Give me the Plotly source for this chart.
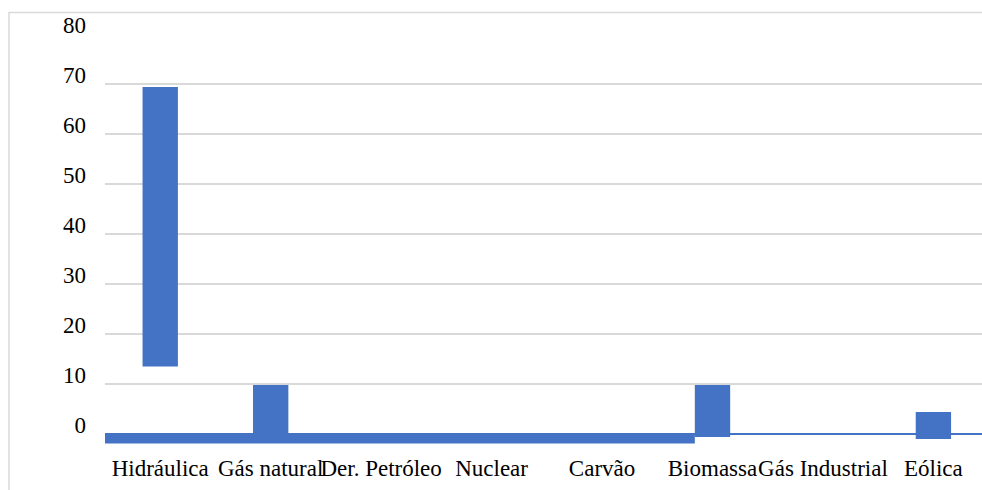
import plotly.graph_objects as go

# Electricity generation by source (%)
sources = ["Hidráulica", "Gás natural", "Der. Petróleo", "Nuclear",
           "Carvão", "Biomassa", "Gás Industrial", "Eólica"]
bar_top = [69.4, 9.8, 0, 0, 0, 9.8, 0, 4.4]
bar_base = [13.5, -0.4, 0, 0, 0, -0.6, 0, -1.0]

# Strip below the zero line, from the first source up to the Biomassa bar
strip_start = ["Hidráulica"]
strip_depth = [-1.9]

y_ticks = [0, 10, 20, 30, 40, 50, 60, 70, 80]

BLUE = "#4472C4"
GRID = "#d9d9d9"
FONT = "Times New Roman"

W, H = 982, 490
L, R, T, B = 105, 0, 34, 46
BAR_W = 0.32

fig = go.Figure()

strip_len = sources.index("Biomassa") + 0.5 - BAR_W / 2
fig.add_trace(go.Bar(
    x=strip_start, y=strip_depth,
    width=[strip_len], offset=[-0.5],
    marker=dict(color=BLUE, line=dict(width=0)),
    hoverinfo="skip", showlegend=False,
))

fig.add_trace(go.Bar(
    x=sources,
    y=[t - b for t, b in zip(bar_top, bar_base)],
    base=bar_base,
    width=BAR_W,
    marker=dict(color=BLUE, line=dict(width=0)),
    showlegend=False,
))

pw = W - L - R
ph = H - T - B
# light frame around the chart area
fig.add_shape(type="path", xref="paper", yref="paper",
              path=f"M {(9 - L) / pw} {-(H + 5 - T - ph) / ph} "
                   f"L {(9 - L) / pw} {(ph + T - 12.5) / ph} "
                   f"L {(W + 5 - L) / pw} {(ph + T - 12.5) / ph}",
              line=dict(color=GRID, width=1.5), layer="below")

fig.update_layout(
    width=W, height=H,
    margin=dict(l=L, r=R, t=T, b=B),
    paper_bgcolor="white", plot_bgcolor="white",
    barmode="overlay",
    font=dict(family=FONT, size=23, color="#000000"),
    xaxis=dict(
        type="category", categoryorder="array", categoryarray=sources,
        range=[-0.5, 7.44], tickangle=0, showgrid=False, showline=False,
        zeroline=False, ticks="", ticklabelstandoff=8,
        tickfont=dict(family=FONT, size=23, color="#000000"),
    ),
    yaxis=dict(
        range=[-2, 80], tickvals=y_ticks, showgrid=True, gridcolor=GRID,
        gridwidth=1.5, zeroline=True, zerolinecolor=BLUE, zerolinewidth=2,
        showline=False, ticks="", ticklabelstandoff=18, ticklabelshift=-9,
        tickfont=dict(family=FONT, size=23, color="#000000"),
    ),
)

fig.write_html("out.html")
